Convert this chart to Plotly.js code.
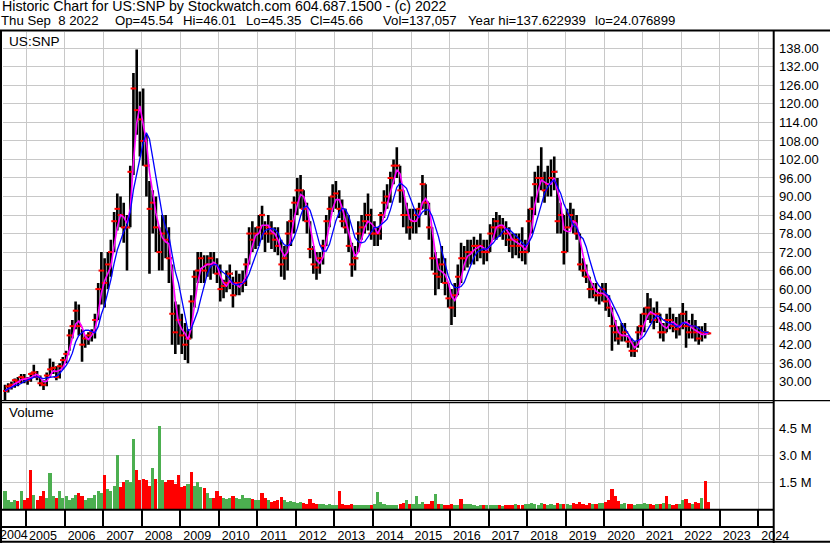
<!DOCTYPE html>
<html><head><meta charset="utf-8">
<script src="https://cdn.plot.ly/plotly-3.0.1.min.js"></script>
<style>html,body{margin:0;padding:0;background:#fff}#chart{width:830px;height:543px}</style>
</head><body><div id="chart"></div>
<script>
// Monthly bars, first month = June 2004, last = September 2022 (partial, to Sep 8)
const startYear = 2004, startMonth = 6;
const high = [
  29, 29.5, 30, 31, 31.5, 32.5, 32.5,
  31.5, 33, 35.5, 33.5, 32, 30.5, 33, 37.5, 36.5, 35, 36, 38,
  40, 47, 50, 56, 55, 47, 45, 46, 47, 52, 62, 72,
  70, 72, 76, 85, 91, 90, 88, 84, 100, 130, 137.6, 124,
  125, 110, 95, 92, 90, 80, 84, 84, 80, 68, 56, 55,
  52, 49, 47, 58, 66, 72, 72, 71, 71, 72, 72, 70,
  68, 63, 66, 68, 64, 66, 65, 66, 70, 80, 82, 80,
  84, 87, 82, 84, 82, 80, 80, 76, 74, 82, 86, 90,
  96, 97, 92, 88, 82, 74, 72, 72, 76, 84, 90, 94,
  95, 92, 89, 86, 84, 75, 74, 82, 84, 88, 91, 86,
  82, 80, 85, 92, 94, 98, 102, 106, 100, 92, 88, 86,
  86, 86, 88, 97, 94, 88, 80, 72, 70, 74, 70, 62,
  60, 62, 68, 75, 74, 76, 76, 77, 76, 78, 76, 76,
  81, 83, 85, 84, 83, 82, 80, 78, 78, 78, 80, 76,
  86, 90, 98, 100, 106, 98, 100, 102, 103, 96, 88, 84,
  86, 88, 86, 84, 78, 70, 68, 64, 62, 62, 60, 62,
  62, 58, 54, 50, 48, 49, 49, 45, 44, 43, 48, 52,
  54, 58.7, 57, 54, 56, 52, 49, 52, 54, 52, 51, 52,
  55.5, 53, 50, 52, 50, 48, 48, 49, 46.01
];
const low = [
  24.1, 26.5, 27.5, 28, 28.5, 29.5, 29.5,
  29, 30, 31.5, 30.5, 28.5, 27.3, 28.5, 31.5, 32.5, 30.5, 31, 34,
  36, 40, 44, 47, 45, 36.5, 41, 42, 43, 44, 50, 55,
  54, 60, 64, 72, 79, 80, 75, 66, 80, 97, 110, 103,
  100, 90, 65, 78, 72, 66, 66, 70, 62, 42, 39, 42,
  39, 37, 36, 44, 54, 62, 62, 62, 64, 63, 65, 62,
  56, 57, 59, 60, 54, 58, 58, 59, 61, 68, 72, 73,
  74, 76, 72, 75, 73, 72, 71, 64, 63, 66, 74, 78,
  84, 86, 82, 78, 70, 65, 63, 65, 68, 74, 80, 85,
  86, 83, 80, 78, 72, 64, 66, 72, 76, 78, 79, 76,
  74, 74, 76, 83, 86, 88, 94, 96, 88, 80, 78, 76,
  78, 78, 80, 86, 84, 76, 66, 58, 60, 62, 58, 54,
  48.4, 51, 58, 62, 66, 67, 68, 68, 69, 70, 68, 69,
  72, 76, 76, 77, 76, 74, 72, 70, 71, 70, 69, 68,
  72, 78, 84, 88, 92, 88, 90, 90, 92, 78, 78, 68,
  72, 80, 78, 76, 66, 64, 62, 57, 57, 56, 55, 56,
  53, 51, 40, 43, 42, 43, 43, 41, 38.1, 38, 41, 45,
  46, 50, 49, 47, 49, 44, 43, 46, 47, 46, 44, 45,
  47, 41, 44, 44, 43, 42, 43, 44, 45.35
];
const close = [
  27, 28.5, 29, 30.5, 30, 31.5, 31,
  30.5, 32.5, 33, 31.5, 29.5, 29, 32, 34, 34.5, 31.5, 35, 37,
  39, 45, 48, 53, 48, 42, 44, 45, 46, 50, 60, 66,
  62, 68, 72, 82, 86, 84, 80, 80, 98, 125, 118, 115,
  108, 100, 86, 88, 80, 72, 78, 76, 70, 52, 46, 50,
  45, 42, 44, 56, 64, 66, 70, 66, 68, 70, 68, 65,
  60, 61, 62, 65, 58, 62, 62, 62, 68, 78, 76, 78,
  80, 84, 78, 80, 78, 76, 74, 68, 70, 78, 82, 88,
  92, 92, 86, 82, 73, 68, 67, 70, 74, 82, 86, 90,
  91, 86, 82, 80, 74, 68, 70, 78, 80, 82, 84, 78,
  78, 78, 84, 88, 90, 96, 100, 100, 92, 84, 84, 80,
  82, 84, 86, 94, 88, 80, 70, 65, 64, 68, 62, 57,
  54, 58, 64, 70, 70, 72, 72, 74, 74, 74, 72, 72,
  78, 80, 82, 80, 80, 78, 76, 74, 76, 74, 72, 72,
  82, 86, 94, 96, 96, 92, 94, 96, 98, 82, 84, 72,
  80, 84, 82, 78, 68, 66, 64, 60, 60, 58, 58, 60,
  56, 54, 48, 46, 44, 45, 46, 43, 40, 40, 46, 48,
  52, 54, 52, 50, 52, 46, 46, 50, 50, 48, 47, 48,
  52, 48, 46, 48, 46, 44, 46, 46, 45.66
];
// weekly volume level per month, millions of shares
const volume = [
  1.0, 0.5, 0.4, 0.5, 0.45, 1.0, 0.5,
  0.6, 2.2, 0.8, 0.5, 0.7, 1.0, 0.6, 2.0, 0.7, 0.6, 1.0, 0.6,
  0.7, 0.5, 0.6, 0.8, 0.9, 0.7, 0.5, 0.6, 0.6, 0.8, 1.0, 0.9,
  1.9, 1.1, 1.0, 1.3, 3.0, 1.2, 1.5, 1.6, 1.5, 3.9, 2.2, 1.6,
  1.7, 1.6, 1.3, 2.3, 1.7, 4.65, 1.6, 1.5, 1.6, 1.6, 1.4, 1.9,
  1.2, 1.3, 1.4, 2.05, 1.3, 1.5, 1.2, 1.15, 0.9, 0.6, 0.6, 1.0,
  0.7, 0.6, 0.55, 0.6, 0.7, 0.6, 0.55, 0.8, 0.6, 0.6, 0.55, 0.5,
  0.5, 0.9, 0.6, 0.5, 0.4, 0.45, 0.5, 0.65, 0.5, 0.4, 0.45, 0.4,
  0.35, 0.4, 0.35, 0.3, 0.55, 0.35, 0.3, 0.3, 0.3, 0.25, 0.3, 0.25,
  0.25, 1.0, 0.3, 0.25, 0.2, 0.3, 0.2, 0.2, 0.2, 0.2, 0.25, 0.2,
  0.3, 0.95, 0.4, 0.3, 0.25, 0.25, 0.2, 0.2, 0.3, 0.35, 0.5, 0.3,
  0.3, 0.72, 0.3, 0.4, 0.3, 0.3, 0.45, 0.85, 0.3, 0.3, 0.25, 0.25,
  0.3, 0.25, 0.2, 0.55, 0.3, 0.3, 0.3, 0.2, 0.15, 0.2, 0.2, 0.2,
  0.2, 0.25, 0.2, 0.2, 0.15, 0.2, 0.25, 0.2, 0.3, 0.25, 0.2, 0.3,
  0.3, 0.35, 0.3, 0.25, 0.35, 0.3, 0.25, 0.3, 0.25, 0.35, 0.3, 0.3,
  0.3, 0.25, 0.35, 0.3, 0.4, 0.3, 0.25, 0.35, 0.3, 0.3, 0.35, 0.35,
  0.4, 0.5, 1.1, 0.7, 0.45, 0.3, 0.35, 0.3, 0.3, 0.25, 0.3, 0.3,
  0.35, 0.3, 0.3, 0.25, 0.3, 0.3, 0.35, 0.72, 0.3, 0.25, 0.3, 0.3,
  0.5, 0.55, 0.35, 0.3, 0.4, 0.35, 0.6, 1.56, 0.4
];
// dominant volume bar colour per month: G = up (green), R = down (red)
const volDir = [
  "GGGGRGR", "RRGRRRGGGRGG", "GGGGRRGGGGGG", "RGGGGRRGGGRR", "RRRGRGGRRRRR",
  "RRGRGGGRGGRR", "RGGGRGGGGGRG", "GRRGRRRRGGGG", "GGRRRRRGGGGG", "GRRRRRGGGGGR",
  "GGGGGGGGRRGR", "GGGGRRRGRGRR", "RGGRGGGGGGRG", "GGGRGRRRGRRG", "GGGGGRGGGRGR",
  "GGRRRRRRGRGG", "RRRRRGGRRGGG", "GGRRGRGRGRRG", "GRRGRRGRR"
].join('');
const priceTicks = [30, 36, 42, 48, 54, 60, 66, 72, 78, 84, 90, 96, 102, 108, 114, 120, 126, 132, 138];
const volTicks = [1.5, 3.0, 4.5];
const volTickText = ['1.5 M', '3.0 M', '4.5 M'];
const yearLabels = [2005, 2006, 2007, 2008, 2009, 2010, 2011, 2012, 2013, 2014, 2015,
                    2016, 2017, 2018, 2019, 2020, 2021, 2022, 2023, 2024];
const headerLine1 = 'Historic Chart for US:SNP by Stockwatch.com 604.687.1500 - (c) 2022';
const headerFields = ['Thu Sep \u00a08 2022', 'Op=45.54', 'Hi=46.01', 'Lo=45.35', 'Cl=45.66',
                      'Vol=137,057', 'Year hi=137.622939', 'lo=24.076899'];
const headerFieldX = [1, 115, 183, 245.5, 310, 383, 468, 595];

// ---- derived helpers ----
const dates = close.map((_, i) => {
  const m0 = startMonth - 1 + i;
  const y = startYear + Math.floor(m0 / 12);
  const m = (m0 % 12) + 1;
  return y + '-' + String(m).padStart(2, '0') + '-15';
});
const open = close.map((c, i) => (i === 0 ? c : close[i - 1]));
function sma(arr, n) {
  return arr.map((_, i) => {
    const s = Math.max(0, i - n + 1);
    const w = arr.slice(s, i + 1);
    return w.reduce((a, b) => a + b, 0) / w.length;
  });
}
const maShort = sma(close, 3);
const maLong = sma(close, 6);
const volColors = volDir.split('').map(c => (c === 'G' ? '#4caf50' : '#ff0000'));

const W = 830, H = 543;
const px = x => x / W;
const py = y => 1 - y / H;
const FONT = 'Liberation Sans, Arial, sans-serif';
const yearTicks = yearLabels.map(y => y + '-01-01');

const traces = [
  {type: 'ohlc', x: dates, open: open, high: high, low: low, close: close,
   xaxis: 'x', yaxis: 'y', tickwidth: 0.25,
   increasing: {line: {color: '#000000', width: 2.6}},
   decreasing: {line: {color: '#000000', width: 2.6}},
   hoverinfo: 'skip', showlegend: false},
  {type: 'scatter', mode: 'markers', x: dates, y: close, xaxis: 'x', yaxis: 'y',
   marker: {color: '#ff0000', size: 4, symbol: 'line-ew', line: {color: '#ff0000', width: 2}},
   hoverinfo: 'skip', showlegend: false},
  {type: 'scatter', mode: 'lines', x: dates, y: maShort, xaxis: 'x', yaxis: 'y',
   line: {color: '#ff00ff', width: 1.6}, hoverinfo: 'skip', showlegend: false},
  {type: 'scatter', mode: 'lines', x: dates, y: maLong, xaxis: 'x', yaxis: 'y',
   line: {color: '#0000ff', width: 1.3}, hoverinfo: 'skip', showlegend: false},
  {type: 'bar', x: dates, y: volume, xaxis: 'x2', yaxis: 'y2',
   width: 30 * 86400000, marker: {color: volColors, line: {width: 0}},
   hoverinfo: 'skip', showlegend: false}
];

const xRange = ['2004-05-27', '2024-05-19'];
const shapes = [];
function hline(y, x0, x1, w) {
  shapes.push({type: 'line', xref: 'paper', yref: 'paper', x0: px(x0), x1: px(x1), y0: py(y), y1: py(y),
               line: {color: '#000', width: w}, layer: 'above'});
}
function vline(x, y0, y1, w) {
  shapes.push({type: 'line', xref: 'paper', yref: 'paper', x0: px(x), x1: px(x), y0: py(y0), y1: py(y1),
               line: {color: '#000', width: w}, layer: 'above'});
}
hline(30.5, 0, 830, 2);
hline(400.6, 0, 830, 1.3);
hline(402.6, 0, 773.5, 1.3);
hline(509.8, 0, 773.5, 2);
hline(527, 0, 773.5, 2);
hline(541.7, 0, 830, 2);
vline(773.7, 30, 543, 2);
vline(1, 30, 543, 2);

const annotations = [];
function label(text, x, y, size) {
  annotations.push({text: text, xref: 'paper', yref: 'paper', x: px(x), y: py(y),
    xanchor: 'left', yanchor: 'middle', showarrow: false, borderpad: 0,
    font: {family: FONT, size: size || 13, color: '#000'}});
}
label(headerLine1, 1, 6.3, 14.2);
headerFields.forEach((t, i) => label(t, headerFieldX[i] - 1, 20.8, 13.2));
label('US:SNP', 8, 41, 13.6);
label('Volume', 8, 413, 13.4);
label('2004', -1, 534.5, 12.5);

const layout = {
  width: W, height: H, margin: {l: 0, r: 0, t: 0, b: 0, pad: 0},
  paper_bgcolor: '#ffffff', plot_bgcolor: '#ffffff', showlegend: false,
  bargap: 0, dragmode: false,
  xaxis: {type: 'date', domain: [px(3), px(773)], range: xRange, anchor: 'y',
          rangeslider: {visible: false}, showticklabels: false, ticks: '',
          tickvals: yearTicks, showgrid: true, gridcolor: '#c8c8c8', gridwidth: 1,
          zeroline: false, showline: false, fixedrange: true},
  xaxis2: {type: 'date', domain: [px(3), px(773)], range: xRange, anchor: 'y2',
           tickvals: yearTicks, ticktext: yearLabels.map(String),
           ticks: 'outside', ticklen: 17, tickwidth: 2, tickcolor: '#000',
           ticklabelposition: 'outside right', ticklabelshift: 2, ticklabelstandoff: 15,
           ticklabeloverflow: 'allow',
           tickfont: {family: FONT, size: 12.5, color: '#000'},
           showgrid: true, gridcolor: '#c8c8c8', gridwidth: 1,
           zeroline: false, showline: false, fixedrange: true},
  yaxis: {domain: [py(400), py(32)], range: [24.07, 143.3], side: 'right', anchor: 'x',
          tickvals: priceTicks, ticktext: priceTicks.map(v => v.toFixed(2)), ticks: '',
          ticklabelstandoff: 5,
          tickfont: {family: FONT, size: 13, color: '#000'},
          showgrid: true, gridcolor: '#c8c8c8', gridwidth: 1, zeroline: false, showline: false,
          fixedrange: true},
  yaxis2: {domain: [py(509), py(403)], range: [0, 5.912], side: 'right', anchor: 'x2',
           tickvals: volTicks, ticktext: volTickText, ticks: '', ticklabelstandoff: 5,
           tickfont: {family: FONT, size: 13, color: '#000'},
           showgrid: true, gridcolor: '#c8c8c8', gridwidth: 1, zeroline: false, showline: false,
           fixedrange: true},
  shapes: shapes,
  annotations: annotations
};

Plotly.newPlot('chart', traces, layout, {displayModeBar: false, staticPlot: true});
</script>
</body></html>
